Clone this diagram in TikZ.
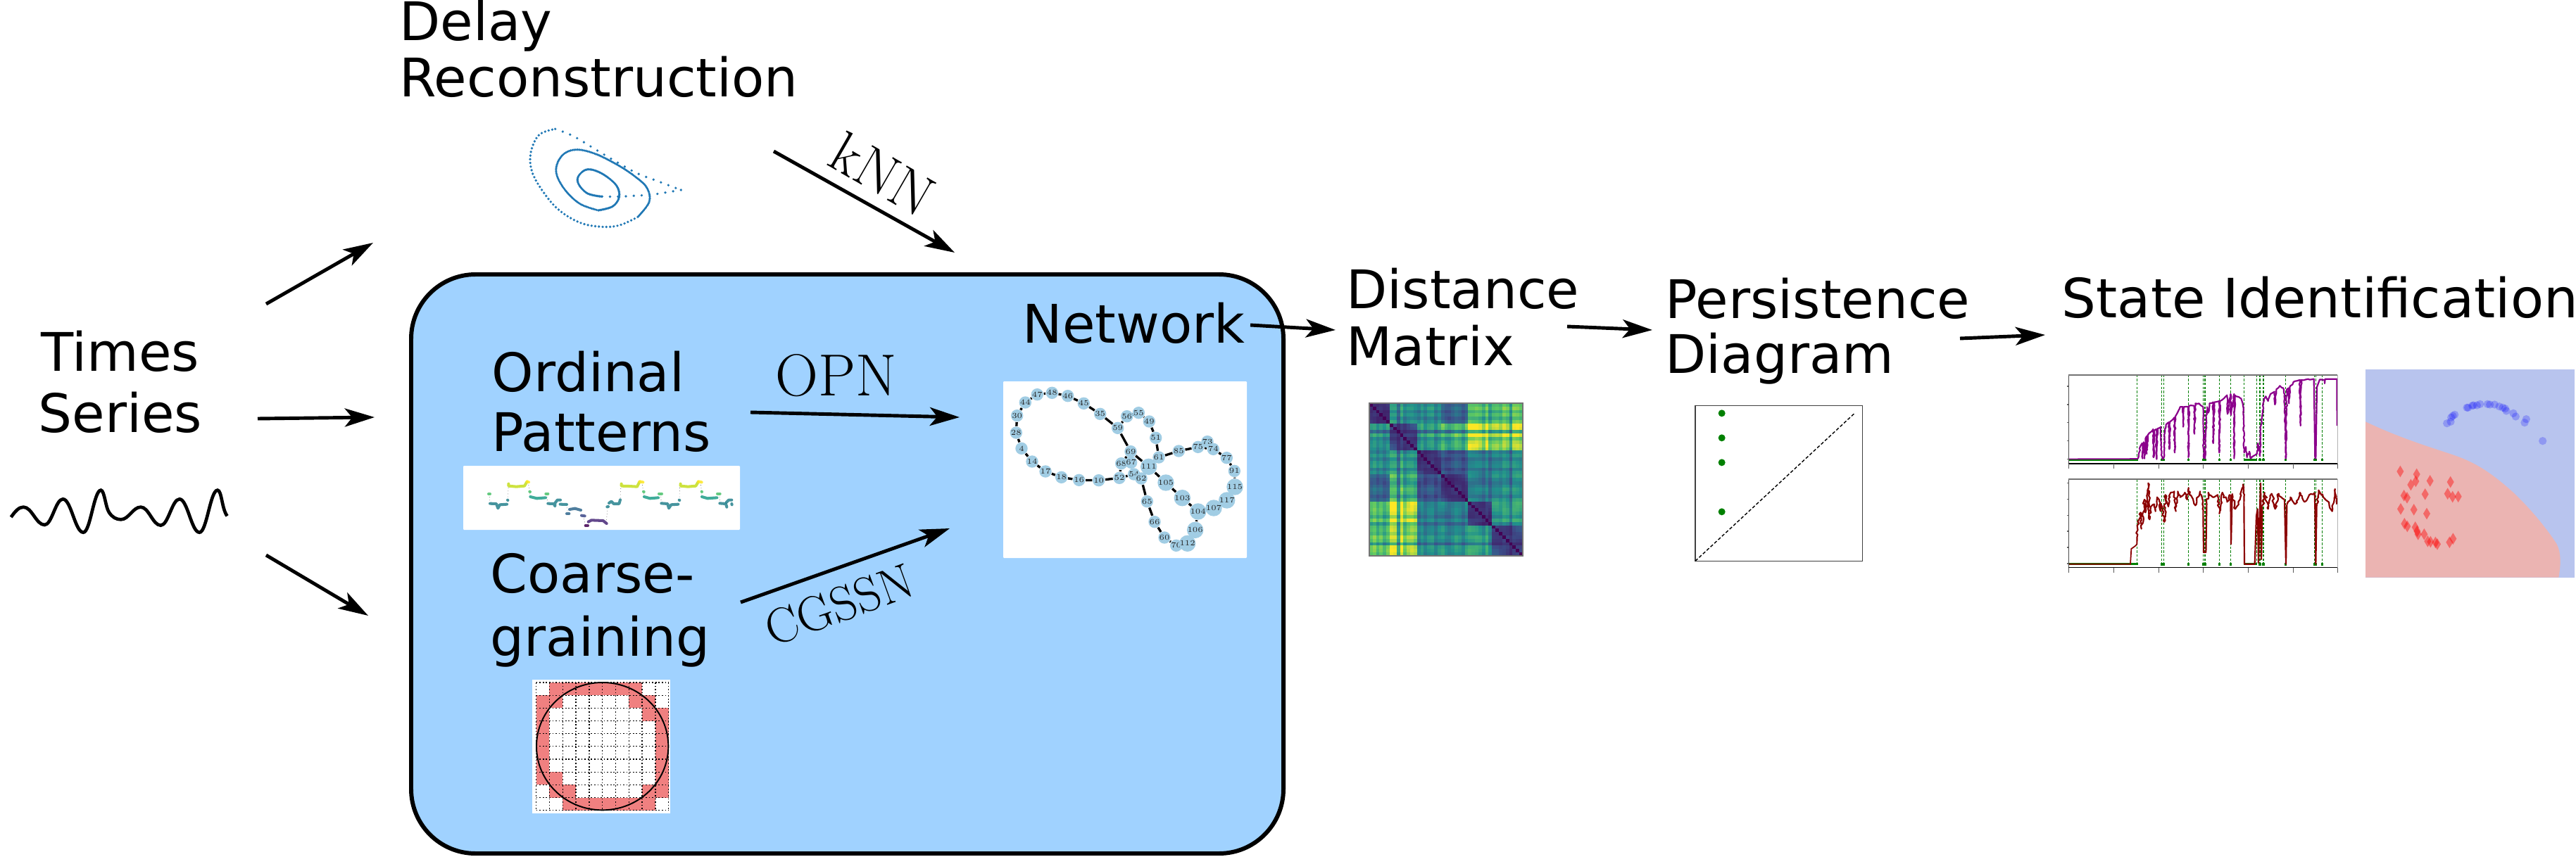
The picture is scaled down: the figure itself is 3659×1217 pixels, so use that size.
\documentclass[tikz,border=0pt]{standalone}
\usepackage{fontspec}
\usetikzlibrary{arrows.meta,backgrounds,decorations.pathmorphing}
\newfontfamily\dejavu{DejaVu Sans}
\definecolor{panelblue}{RGB}{160,210,255}
\definecolor{netblue}{RGB}{161,205,228}
\definecolor{delayblue}{RGB}{31,119,180}
\definecolor{gridred}{RGB}{240,128,128}
\definecolor{vir0}{HTML}{440154}
\definecolor{vir1}{HTML}{3B528B}
\definecolor{vir2}{HTML}{21918C}
\definecolor{vir3}{HTML}{5EC962}
\definecolor{vir4}{HTML}{FDE725}
\definecolor{optA}{HTML}{C5DE1E}
\definecolor{optB}{HTML}{FDE725}
\definecolor{optC}{HTML}{4CC26C}
\definecolor{optD}{HTML}{1F9E89}
\definecolor{optE}{HTML}{26828E}
\definecolor{optF}{HTML}{3E4A89}
\definecolor{optG}{HTML}{482878}
\definecolor{optH}{HTML}{440154}
\definecolor{optI}{HTML}{31688E}
\definecolor{svmblue}{RGB}{184,196,238}
\definecolor{svmred}{RGB}{235,180,178}
\definecolor{gpurple}{RGB}{139,0,139}
\definecolor{gred}{RGB}{139,0,0}
\definecolor{ggreen}{RGB}{0,128,0}
\tikzset{
  lab/.style={font=\dejavu\fontsize{21.5}{24}\selectfont,inner sep=0pt,anchor=base west,align=left},
  mathlab/.style={font=\fontsize{#1}{26}\selectfont,inner sep=0pt,anchor=base west},
  arr/.style={-{Stealth[length=12pt,width=7.4pt,inset=3pt]},line width=1.4pt,black},
  netnode/.style={circle,fill=netblue,minimum size=4.95pt,inner sep=0pt,font=\fontsize{3.1}{3.5}\selectfont,text=black!85},
  netedge/.style={line width=.95pt,black},
  zoomed/.style={x=.01cm/3,y=-.01cm/3},
  opline/.style={line width=1.15pt,opacity=.85,line cap=round,line join=round},
  vline/.style={ggreen,dashed,dash pattern=on 1pt off .6pt,line width=.35pt},
  noisy/.style={decorate,decoration={random steps,segment length=.9pt,amplitude=#1}},
  dl/.style={delayblue,line width=1.05pt,line cap=round,dash pattern=on 0pt off #1},
}
\begin{document}
\begin{tikzpicture}[x=.01cm,y=.01cm]
\useasboundingbox (0,0) rectangle (3659,1217);
\pgfmathsetseed{42}

% ---------- panel
\begin{scope}[on background layer]
  \draw[line width=1.7pt,fill=panelblue,rounded corners=26pt] (584,1217-390) rectangle (1823,1217-1213);
  \fill[white,rounded corners=.3pt] (1425,1217-542) rectangle (1771,1217-793);
  \fill[white,rounded corners=.3pt] (658,1217-662) rectangle (1051,1217-753);
  \fill[white] (756,1217-966) rectangle (952,1217-1156);
\end{scope}

% ---------- labels
\node[lab,font=\dejavu\fontsize{21.5}{22.8}\selectfont] (delay) at (567,1217-138) {Delay\\Reconstruction};
\node[lab,align=center,font=\dejavu\fontsize{21.5}{24.5}\selectfont] (times) at (54,1217-614) {Times\\Series};
\node[lab] (ordinal) at (698,1217-641) {Ordinal\\Patterns};
\node[lab,font=\dejavu\fontsize{21.5}{25.5}\selectfont] (coarse) at (696,1217-932) {Coarse-\\graining};
\node[lab] (net) at (1452,1217-487) {Network};
\node[lab,font=\dejavu\fontsize{21.5}{23}\selectfont] (dist) at (1912,1217-519) {Distance\\Matrix};
\node[lab,font=\dejavu\fontsize{21.5}{21.9}\selectfont] (pers) at (2365,1217-530) {Persistence\\Diagram};
\node[lab,font=\dejavu\fontsize{21.9}{24}\selectfont] (state) at (2928,1217-451) {State Identification};

\node[mathlab=24] (opn) at (1101,1217-562) {OPN};
\node[mathlab=20,rotate=20] (cgssn) at (1097,1217-920) {CGSSN};
\node[mathlab=23.5,rotate=-30] (knn) at (1172,1217-233) {kNN};

% ---------- arrows
\coordinate (a1s) at (378,1217-432); \coordinate (a1e) at (530,1217-345);
\coordinate (a2s) at (366,1217-595); \coordinate (a2e) at (532,1217-593);
\coordinate (a3s) at (378,1217-789); \coordinate (a3e) at (523,1217-875);
\coordinate (a4s) at (1099,1217-215); \coordinate (a4e) at (1356,1217-359);
\coordinate (a5s) at (1066,1217-586); \coordinate (a5e) at (1363,1217-593);
\coordinate (a6s) at (1052,1217-856); \coordinate (a6e) at (1349,1217-751);
\coordinate (a7s) at (1776,1217-462); \coordinate (a7e) at (1897,1217-469);
\coordinate (a8s) at (2226,1217-464); \coordinate (a8e) at (2347,1217-469);
\coordinate (a9s) at (2784,1217-481); \coordinate (a9e) at (2905,1217-476);
\foreach \k in {1,...,9} \draw[arr] (a\k s) -- (a\k e);

% ---------- wave
\begin{scope}[shift={(0,1217-680)},zoomed]
  \draw[line width=1.33pt] (47,165) .. controls (65,140) and (80,122) .. (100,122)
    .. controls (136,122) and (154,198) .. (190,198)
    .. controls (221,198) and (237,88) .. (268,88)
    .. controls (303,88) and (320,230) .. (355,230)
    .. controls (385,230) and (400,50) .. (430,50)
    .. controls (445,50) and (450,125) .. (465,145)
    .. controls (478,165) and (495,175) .. (515,175)
    .. controls (549,175) and (566,122) .. (600,122)
    .. controls (634,122) and (651,200) .. (685,200)
    .. controls (717,200) and (733,88) .. (765,88)
    .. controls (799,88) and (816,230) .. (850,230)
    .. controls (881,230) and (896,50) .. (927,50)
    .. controls (945,50) and (945,130) .. (968,160);
\end{scope}

% ---------- delay reconstruction (crop stretched 1.96 x, 3 y)
\begin{scope}[shift={(600,1217)},x=.01cm/1.96,y=-.01cm/3]
  \draw[dl=3.2pt] plot[smooth,tension=.6] coordinates {(720,810)(640,830)(610,833)(550,838)(500,838)};
  \draw[dl=.5pt] plot[smooth,tension=.6] coordinates {(500,838)(460,825)(435,785)(435,750)(460,722)(500,740)(540,790)(548,840)(530,880)(490,897)};
  \draw[dl=.7pt] plot[smooth,tension=.6] coordinates {(490,897)(440,870)(400,815)(375,750)(375,700)(395,655)(430,638)(480,655)(540,700)(590,750)(625,800)(632,860)(600,925)};
  \draw[dl=1.5pt] plot[smooth,tension=.6] coordinates {(600,925)(550,960)(500,967)(440,950)(380,895)(335,815)(305,730)(302,650)(325,575)(370,550)};
  \draw[dl=3.2pt] plot[smooth,tension=.6] coordinates {(370,550)(420,580)(480,635)(540,690)(600,740)(660,775)(720,810)};
\end{scope}

% ---------- ordinal patterns
\begin{scope}[shift={(620,1217-640)},zoomed]
  \draw[black!60,line width=.2pt,densely dotted] (225,186)--(228,227) (303,212)--(307,150) (390,135)--(398,177)--(398,197) (470,185)--(473,227) (553,232)--(560,270) (625,280)--(635,320) (723,310)--(730,240) (786,150)--(783,210) (875,135)--(882,177)--(885,197) (955,185)--(958,225) (1035,212)--(1037,150) (1125,135)--(1130,177)--(1130,197) (1205,185)--(1208,225);
  \foreach \c/\p in {
   optC/{(222,186)--(228,186)},
   optE/{(228,227)--(255,228)--(262,247)--(270,232)--(300,230)},
   optE/{(303,212)--(304,213)},
   optA/{(307,143)--(307,152)--(340,155)--(375,152)--(385,135)},
   optB/{(386,133)--(393,136)},
   optC/{(397,176)--(399,177)},
   optD/{(400,198)--(428,205)--(465,202)},
   optC/{(466,185)--(475,185)},
   optE/{(475,227)--(500,228)--(505,238)--(505,225)--(515,212)--(528,212)},
   optE/{(527,230)--(555,231)},
   optI/{(555,270)--(565,270)},
   optI/{(567,252)--(590,248)--(615,255)},
   optF/{(618,278)--(632,280)},
   optH/{(635,321)--(645,321)},
   optG/{(647,305)--(660,298)--(710,300)--(725,312)},
   optE/{(727,241)--(732,240)},
   optE/{(735,225)--(745,218)--(755,228)--(778,228)--(783,211)},
   optA/{(788,143)--(788,152)--(820,153)--(855,155)--(865,135)},
   optB/{(866,133)--(880,136)},
   optC/{(882,176)--(884,177)},
   optD/{(885,198)--(910,205)--(945,202)},
   optC/{(948,185)--(960,185)},
   optE/{(958,226)--(985,228)--(990,247)--(1000,232)--(1030,230)},
   optE/{(1034,212)--(1036,213)},
   optA/{(1040,143)--(1040,152)--(1072,155)--(1105,152)--(1115,135)},
   optB/{(1116,133)--(1130,136)},
   optC/{(1130,176)--(1131,177)},
   optD/{(1131,198)--(1155,205)--(1195,202)},
   optC/{(1197,185)--(1208,185)},
   optE/{(1207,226)--(1233,228)--(1237,242)},
   optE/{(1235,222)--(1245,212)--(1258,212)},
   optE/{(1258,228)--(1259,232)}} {
     \draw[opline,\c] \p;
  }
\end{scope}

% ---------- coarse grid
\begin{scope}[shift={(700,1217-940)},zoomed]
  \foreach \c/\r in {1/0,2/0,3/0,4/0,5/0,6/0,7/0,0/1,1/1,7/1,8/1,0/2,8/2,9/2,0/3,9/3,0/4,9/4,0/5,9/5,0/6,9/6,0/7,1/7,9/7,1/8,2/8,8/8,9/8,2/9,3/9,4/9,5/9,6/9,7/9,8/9}
    \fill[gridred] (185+56.4*\c,90+54.5*\r) rectangle ++(56.4,54.5);
  \foreach \i in {0,...,10} {
    \draw[black,line width=.36pt,dash pattern=on .5pt off .8pt] (185+56.4*\i,90)--(185+56.4*\i,635);
    \draw[black,line width=.36pt,dash pattern=on .5pt off .8pt] (185,90+54.5*\i)--(749,90+54.5*\i);
  }
  \draw[line width=.55pt] (467,362) ellipse [x radius=281,y radius=272];
\end{scope}

% ---------- network
\begin{scope}[shift={(1400,1217-520)},zoomed]
  \foreach \n/\x/\y in {47/220/122,48/283/115,46/350/128,45/418/160,35/488/205,59/563/265,56/602/215,55/652/200,49/697/237,51/725/307,61/738/390,85/823/363,73/945/323,75/905/346,74/970/355,77/1027/392,91/1060/448,115/1062/516,117/1028/573,107/972/606,104/905/621,103/838/563,105/768/498,111/695/430,69/618/365,68/578/416,67/620/412,52/570/478,10/482/488,16/398/487,18/323/475,17/255/450,14/198/408,4/153/352,28/130/285,30/134/212,44/169/156,54/632/462,62/663/480,65/688/578,66/720/665,60/762/732,70/812/766,112/860/757,106/893/700}
    \node[netnode] (n\n) at (\x,\y) {\n};
\end{scope}
\begin{scope}[on background layer]
  \foreach \a/\b in {4/28,28/30,30/44,44/47,47/48,48/46,46/45,45/35,35/59,59/56,56/55,55/49,49/51,51/61,61/85,85/75,75/74,74/73,74/77,77/91,91/115,115/117,117/107,107/104,104/103,103/105,105/111,111/69,69/59,69/68,69/67,68/52,52/10,10/16,16/18,18/17,17/14,14/4,52/54,54/62,62/65,65/66,66/60,60/70,70/112,112/106,106/104,111/62,111/61}
    \draw[netedge] (n\a) -- (n\b);
\end{scope}

% ---------- distance matrix
\begin{scope}[shift={(1945,1217-573)},x=.01cm*218/45,y=-.01cm*217/45]
  \def\BL{{0,0,0,0,0,0,1,1,1,1,1,1,1,1,2,2,2,2,2,2,2,3,3,3,3,3,3,3,3,4,4,4,4,4,4,4,5,5,5,5,5,5,5,5,5}}
  \def\MM{{.04,.16,-.06,.1,-.1,.08,.26,.24,-.3,.3,-.06,.1,.16,.08,-.1,.1,-.14,.06,.12,-.16,.06,.08,-.12,-.2,-.06,.1,.02,-.16,.1,.22,.2,.22,.14,-.04,.26,-.12,.1,.14,.04,.24,.14,-.22,.26,.26,.18}}
  \def\BB{{{.1,.42,.44,.3,.56,.58},{.42,.12,.46,.56,.7,.64},{.44,.46,.12,.26,.36,.4},{.3,.56,.26,.12,.36,.42},{.56,.7,.36,.36,.1,.42},{.58,.64,.4,.42,.42,.12}}}
  \foreach \i in {0,...,44} \foreach \j in {0,...,44} {
    \pgfmathsetmacro{\vv}{min(1,max(0,(\i==\j)?0:(\BB[\BL[\i]][\BL[\j]]*(1+\MM[\i]+\MM[\j])*1.02+0.04*sin(\i*47)*sin(\j*47)+0.012*abs(\i-\j)*(\BL[\i]==\BL[\j]))))}
    \pgfmathtruncatemacro{\kk}{min(3,floor(\vv*4))}
    \pgfmathtruncatemacro{\kn}{\kk+1}
    \pgfmathsetmacro{\pc}{(\vv*4-\kk)*100}
    \path[fill=vir\kn!\pc!vir\kk,draw=vir\kn!\pc!vir\kk,line width=.05pt] (\j,\i) rectangle ++(1,1);
  }
  \draw[black!55,line width=.4pt] (0,0) rectangle (45,45);
\end{scope}

% ---------- persistence diagram
\begin{scope}[shift={(2380,1217-550)},zoomed]
  \draw[black!75,line width=.3pt] (84,80) rectangle (797,742);
  \foreach \y in {112,217,322,532} \fill[ggreen] (197,\y) circle (15);
  \draw[black,line width=.4pt,dash pattern=on 1.3pt off .8pt] (84,742) -- (765,110);
\end{scope}

% ---------- time series
\begin{scope}[shift={(2920,1217-510)},zoomed]
  \foreach \top/\bot/\tk in {68/447/0,513/890/1} {
    \foreach \x in {346,452,460,565,629,636,697,745,803,857,870,885,980,1103,1109,1135}
      \draw[vline] (\x,\top) -- (\x,\bot-20);
  }
  \fill[ggreen] (55,426) rectangle (350,435);
  \fill[ggreen] (802,426) rectangle (858,435);
  \fill[ggreen] (55,871) rectangle (350,880);
  \fill[ggreen] (802,871) rectangle (858,880);
  \foreach \yy in {430.5,875.5} \foreach \x in {452,460,565,629,636,697,745,870,885,980,1103,1109,1135}
     \fill[ggreen] (\x-5,\yy-5) rectangle (\x+5,\yy+5);
  \draw[gpurple,line width=.45pt] (55,427)--(350,426);
  \draw[gpurple,line width=.62pt,line join=round,noisy=.25pt] (350,426)--(355,400)--(362,370)--(368,360)--(370,425)--(375,355)--(378,425)--(382,340)--(387,330)--(388,405)--(392,325)--(405,312)--(415,300)--(417,420)--(420,305)--(428,300)--(430,428)--(433,298)--(448,290)--(450,410)--(455,428)--(461,420)--(465,300)--(470,280)--(483,270)--(484,385)--(487,268)--(505,250)--(507,400)--(510,245)--(530,205)--(542,205)--(543,290)--(546,205)--(565,205)--(565,420)--(568,200)--(590,200)--(591,320)--(595,190)--(610,190)--(628,205)--(630,420)--(636,425)--(640,300)--(645,205)--(650,230)--(655,190)--(670,185)--(671,360)--(675,185)--(697,180)--(697,400)--(700,180)--(730,155)--(732,235)--(745,150)--(747,240)--(760,150)--(760,425)--(763,155)--(790,170)--(800,210)--(803,400)--(810,375)--(815,420)--(825,395)--(830,425)--(850,410)--(857,405)--(862,360)--(870,415)--(873,300)--(880,240)--(887,180)--(895,160)--(905,180)--(915,150)--(932,140)--(934,195)--(940,130)--(955,115)--(970,125)--(975,150)--(980,425)--(985,130)--(992,125)--(994,190)--(1000,115)--(1020,95)--(1040,90)--(1043,285)--(1046,90)--(1100,85);
  \draw[gpurple,line width=.62pt,line join=round] (1100,85)--(1105,420)--(1108,425)--(1113,120)--(1125,88)--(1145,90)--(1146,105)--(1148,86)--(1198,86)--(1199,285);
  \draw[gred,line width=.5pt] (55,875)--(318,875)--(322,810)--(340,797)--(346,790);
  \tikzset{gr/.style={gred,line width=.62pt,line join=round},grn/.style={gr,noisy=.5pt}}
  \draw[grn] (346,790)--(348,720)--(358,680)--(362,655)--(365,725)--(375,650)--(378,600)--(382,655)--(390,600)--(394,530)--(397,610)--(400,685)--(405,630)--(420,620)--(425,650)--(432,590)--(440,600)--(447,650)--(450,620)--(463,695)--(467,580)--(480,630)--(490,570)--(505,565)--(512,650)--(520,565)--(530,590)--(550,570)--(560,600)--(566,550)--(570,580)--(595,625)--(615,565)--(625,620)--(628,660);
  \draw[gr] (628,660)--(630,825)--(640,825)--(643,630);
  \draw[grn] (643,630)--(650,570)--(670,590)--(690,580)--(697,660)--(710,570)--(730,610)--(745,580);
  \draw[gr] (745,580)--(747,790)--(752,575);
  \draw[grn] (752,575)--(765,640)--(785,600)--(798,535)--(802,610);
  \draw[gr] (802,610)--(804,875)--(848,875)--(855,670)--(860,640)--(864,870)--(868,700)--(873,530)--(876,855)--(880,640);
  \draw[grn] (880,640)--(890,570)--(905,640)--(920,575)--(935,640)--(950,575)--(975,600);
  \draw[gr] (975,600)--(981,875)--(985,620);
  \draw[grn] (985,620)--(1000,590)--(1020,620)--(1040,570)--(1060,610)--(1080,580)--(1103,570);
  \draw[gr] (1103,570)--(1105,640)--(1108,875)--(1112,620);
  \draw[grn] (1112,620)--(1120,560)--(1140,590)--(1165,620)--(1178,650)--(1190,555)--(1198,620);
  \foreach \top/\bot in {68/447,513/890} {
    \draw[black!70,line width=.35pt] (55,\bot)--(55,\top);
    \draw[black!55,line width=.5pt] (55,\top)--(1201,\top);
    \draw[black!30,line width=.35pt] (1201,\top)--(1201,\bot);
    \draw[black,line width=.4pt] (55,\bot)--(1201,\bot);
    \foreach \x in {55,247,438,629,820,1011,1201} \draw[black!65,line width=.3pt] (\x,\bot)--(\x,\bot+22);
  }
  \foreach \y in {117,195,271,349,427,530,598,667,735,804,873} \draw[black!60,line width=.3pt] (49,\y)--(55,\y);
\end{scope}

% ---------- classifier
\begin{scope}[shift={(3340,1217-510)},zoomed]
  \fill[svmblue] (60,45) rectangle (950,932);
  \fill[svmred] (60,268) .. controls (200,335) and (330,375) .. (420,405) .. controls (520,437) and (590,480) .. (690,570) .. controls (780,655) and (850,750) .. (875,790) .. controls (895,830) and (892,880) .. (883,932) -- (60,932) -- cycle;
  \foreach \x/\y in {407/275,423/268,425/250,432/243,440/238,492/208,497/208,515/200,520/198,535/198,548/193,580/193,590/195,610/195,630/203,645/208,655/212,660/222,690/232,700/246,745/257,738/272,815/350}
    \fill[blue,opacity=.22] (\x,\y) circle (17);
  \foreach \x/\y in {208/480,278/492,274/522,253/537,335/520,422/525,224/583,237/592,314/577,410/575,431/588,455/587,210/640,266/643,321/660,226/703,238/714,272/718,280/735,284/748,310/748,325/778,337/780,358/783,366/790,418/782,433/767}
    \fill[red,opacity=.42] (\x,\y-25) -- (\x+15,\y) -- (\x,\y+25) -- (\x-15,\y) -- cycle;
\end{scope}
\end{tikzpicture}
\end{document}
